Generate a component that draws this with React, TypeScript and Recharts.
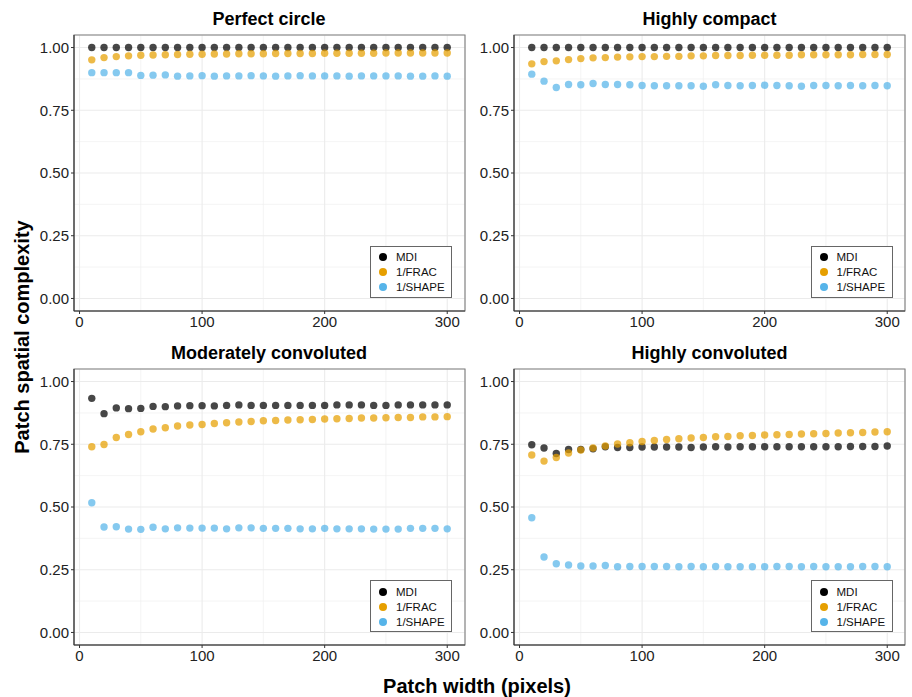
import React from 'react';
import { ScatterChart, Scatter, XAxis, YAxis, CartesianGrid, ReferenceArea } from 'recharts';

// patch widths (pixels) sampled in every panel
const patchWidths = [10, 20, 30, 40, 50, 60, 70, 80, 90, 100, 110, 120, 130, 140, 150,
  160, 170, 180, 190, 200, 210, 220, 230, 240, 250, 260, 270, 280, 290, 300];

// Perfect circle
const circleMDI = [1, 1, 1, 1, 1, 1, 1, 1, 1, 1, 1, 1, 1, 1, 1, 1, 1, 1, 1, 1, 1, 1, 1, 1, 1, 1, 1, 1, 1, 1];
const circleFRAC = [0.951, 0.960, 0.964, 0.967, 0.969, 0.970, 0.971, 0.972, 0.973, 0.973, 0.974, 0.974, 0.975, 0.975, 0.975,
  0.976, 0.976, 0.976, 0.976, 0.977, 0.977, 0.977, 0.977, 0.977, 0.978, 0.978, 0.978, 0.978, 0.978, 0.978];
const circleSHAPE = [0.900, 0.900, 0.900, 0.900, 0.889, 0.890, 0.891, 0.886, 0.887, 0.888, 0.886, 0.887, 0.887, 0.888, 0.887,
  0.886, 0.887, 0.888, 0.887, 0.887, 0.887, 0.886, 0.887, 0.887, 0.887, 0.887, 0.886, 0.886, 0.887, 0.886];

// Highly compact
const compactMDI = [1, 1, 1, 1, 1, 1, 1, 1, 1, 1, 1, 1, 1, 1, 1, 1, 1, 1, 1, 1, 1, 1, 1, 1, 1, 1, 1, 1, 1, 1];
const compactFRAC = [0.935, 0.944, 0.947, 0.952, 0.956, 0.959, 0.960, 0.962, 0.963, 0.964, 0.964, 0.965, 0.965, 0.967, 0.967,
  0.968, 0.968, 0.968, 0.969, 0.969, 0.969, 0.969, 0.971, 0.971, 0.971, 0.971, 0.971, 0.972, 0.972, 0.972];
const compactSHAPE = [0.894, 0.866, 0.841, 0.853, 0.852, 0.857, 0.853, 0.853, 0.852, 0.849, 0.848, 0.848, 0.848, 0.848, 0.846,
  0.852, 0.849, 0.848, 0.849, 0.850, 0.849, 0.848, 0.846, 0.849, 0.849, 0.848, 0.849, 0.848, 0.849, 0.848];

// Moderately convoluted
const moderateMDI = [0.933, 0.872, 0.895, 0.892, 0.893, 0.901, 0.900, 0.903, 0.904, 0.904, 0.903, 0.905, 0.907, 0.905, 0.905,
  0.905, 0.905, 0.905, 0.905, 0.905, 0.907, 0.907, 0.907, 0.905, 0.905, 0.907, 0.907, 0.907, 0.907, 0.907];
const moderateFRAC = [0.740, 0.749, 0.777, 0.789, 0.800, 0.811, 0.816, 0.823, 0.827, 0.829, 0.833, 0.836, 0.839, 0.841, 0.844,
  0.845, 0.847, 0.848, 0.849, 0.851, 0.852, 0.853, 0.855, 0.855, 0.856, 0.857, 0.857, 0.859, 0.859, 0.860];
const moderateSHAPE = [0.517, 0.420, 0.421, 0.412, 0.411, 0.419, 0.413, 0.417, 0.416, 0.416, 0.416, 0.413, 0.417, 0.417, 0.415,
  0.415, 0.415, 0.413, 0.413, 0.415, 0.413, 0.413, 0.413, 0.412, 0.412, 0.412, 0.415, 0.415, 0.415, 0.413];

// Highly convoluted
const convolutedMDI = [0.748, 0.735, 0.713, 0.729, 0.729, 0.732, 0.740, 0.737, 0.737, 0.739, 0.739, 0.739, 0.739, 0.737, 0.739,
  0.740, 0.739, 0.740, 0.740, 0.740, 0.740, 0.740, 0.740, 0.740, 0.740, 0.740, 0.741, 0.741, 0.741, 0.743];
const convolutedFRAC = [0.707, 0.683, 0.697, 0.715, 0.727, 0.735, 0.743, 0.751, 0.756, 0.761, 0.765, 0.769, 0.772, 0.775, 0.777,
  0.780, 0.781, 0.784, 0.785, 0.787, 0.788, 0.789, 0.791, 0.792, 0.793, 0.795, 0.796, 0.797, 0.799, 0.800];
const convolutedSHAPE = [0.457, 0.301, 0.274, 0.269, 0.265, 0.265, 0.267, 0.262, 0.263, 0.263, 0.263, 0.263, 0.262, 0.263, 0.262,
  0.263, 0.262, 0.262, 0.262, 0.262, 0.263, 0.263, 0.262, 0.263, 0.262, 0.262, 0.262, 0.263, 0.263, 0.262];

const seriesNames = ['MDI', '1/FRAC', '1/SHAPE'];
const seriesColors = ['#000000', '#E69F00', '#56B4E9'];
const panelTitles = ['Perfect circle', 'Highly compact', 'Moderately convoluted', 'Highly convoluted'];

const xTicks = [0, 100, 200, 300];
const xMinor = [50, 150, 250];
const yTicks = [0, 0.25, 0.5, 0.75, 1];
const yMinor = [0.125, 0.375, 0.625, 0.875];

const panelSeries = [
  [circleMDI, circleFRAC, circleSHAPE],
  [compactMDI, compactFRAC, compactSHAPE],
  [moderateMDI, moderateFRAC, moderateSHAPE],
  [convolutedMDI, convolutedFRAC, convolutedSHAPE],
];

const FONT = '"Liberation Sans", Arial, Helvetica, sans-serif';
const X_DOMAIN: [number, number] = [-4.5, 314.5];
const Y_DOMAIN: [number, number] = [-0.05, 1.05];

// layout
const colLeft = [73.5, 514];
const rowTop = [34.5, 369];
const PLOT_W = 391;
const PLOT_H = 276;
const Y_AXIS_W = 50;
const X_AXIS_H = 28;
const PAD = 6;

function Dot(color: string) {
  return (props: any) => (
    <circle cx={props.cx} cy={props.cy} r={3.7} fill={color} fillOpacity={0.72} />
  );
}

function Legend() {
  return (
    <div
      style={{
        position: 'absolute',
        right: 12.5,
        bottom: 13,
        width: 80,
        height: 50,
        border: '1px solid #666',
        background: '#fff',
        fontFamily: FONT,
        fontSize: 11.5,
        color: '#111',
      }}
    >
      {seriesNames.map((name, i) => (
        <div key={name} style={{ position: 'absolute', left: 8, top: 3 + i * 15, height: 15, display: 'flex', alignItems: 'center' }}>
          <span style={{ width: 8, height: 8, borderRadius: 4, background: seriesColors[i], display: 'inline-block', marginRight: 9 }} />
          <span>{name}</span>
        </div>
      ))}
    </div>
  );
}

function Panel({ index }: { index: number }) {
  const col = index % 2;
  const row = Math.floor(index / 2);
  const left = colLeft[col];
  const top = rowTop[row];
  const series = panelSeries[index];
  return (
    <>
      <div
        style={{
          position: 'absolute',
          left: left,
          top: top - 27,
          width: PLOT_W,
          textAlign: 'center',
          fontFamily: FONT,
          fontWeight: 'bold',
          fontSize: 18,
          lineHeight: '22px',
          color: '#000',
        }}
      >
        {panelTitles[index]}
      </div>
      <div style={{ position: 'absolute', left: left - Y_AXIS_W, top: top - PAD }}>
        <ScatterChart
          width={Y_AXIS_W + PLOT_W + PAD}
          height={PAD + PLOT_H + X_AXIS_H}
          margin={{ top: PAD, right: PAD, bottom: 0, left: 0 }}
        >
          <CartesianGrid stroke="#EFEFEF" strokeWidth={0.7} verticalValues={xMinor} horizontalValues={yMinor} />
          <CartesianGrid stroke="#EBEBEB" strokeWidth={1.1} />
          <XAxis
            type="number"
            dataKey="x"
            domain={X_DOMAIN}
            ticks={xTicks}
            allowDataOverflow
            height={X_AXIS_H}
            axisLine={{ stroke: '#333', strokeWidth: 1.1 }}
            tickLine={{ stroke: '#333' }}
            tickSize={3}
            tickMargin={2}
            tick={{ fill: '#222', fontSize: 15, fontFamily: FONT }}
          />
          <YAxis
            type="number"
            dataKey="y"
            domain={Y_DOMAIN}
            ticks={yTicks}
            allowDataOverflow
            width={Y_AXIS_W}
            axisLine={{ stroke: '#333', strokeWidth: 1.1 }}
            tickLine={{ stroke: '#333' }}
            tickSize={3}
            tickMargin={2}
            tickFormatter={(v: number) => v.toFixed(2)}
            tick={{ fill: '#222', fontSize: 15, fontFamily: FONT }}
          />
          <ReferenceArea
            x1={X_DOMAIN[0]}
            x2={X_DOMAIN[1]}
            y1={Y_DOMAIN[0]}
            y2={Y_DOMAIN[1]}
            fill="none"
            stroke="#7F7F7F"
            strokeWidth={1.1}
            ifOverflow="visible"
          />
          {series.map((values, i) => (
            <Scatter
              key={seriesNames[i]}
              name={seriesNames[i]}
              data={patchWidths.map((x, j) => ({ x, y: values[j] }))}
              fill={seriesColors[i]}
              shape={Dot(seriesColors[i])}
              isAnimationActive={false}
            />
          ))}
        </ScatterChart>
      </div>
      <div style={{ position: 'absolute', left, top, width: PLOT_W, height: PLOT_H, pointerEvents: 'none' }}>
        <Legend />
      </div>
    </>
  );
}

export default function App() {
  return (
    <div style={{ position: 'absolute', left: 0, top: 0, width: 912, height: 697, background: '#fff', overflow: 'hidden' }}>
      {panelTitles.map((_, i) => (
        <Panel key={i} index={i} />
      ))}
      <div
        style={{
          position: 'absolute',
          left: 0,
          width: 954,
          top: 674,
          textAlign: 'center',
          fontFamily: FONT,
          fontWeight: 'bold',
          fontSize: 20,
          lineHeight: '24px',
          color: '#000',
        }}
      >
        Patch width (pixels)
      </div>
      <div
        style={{
          position: 'absolute',
          left: 22 - 170,
          top: 337 - 12,
          width: 340,
          textAlign: 'center',
          transform: 'rotate(-90deg)',
          fontFamily: FONT,
          fontWeight: 'bold',
          fontSize: 20,
          lineHeight: '24px',
          color: '#000',
        }}
      >
        Patch spatial complexity
      </div>
    </div>
  );
}
